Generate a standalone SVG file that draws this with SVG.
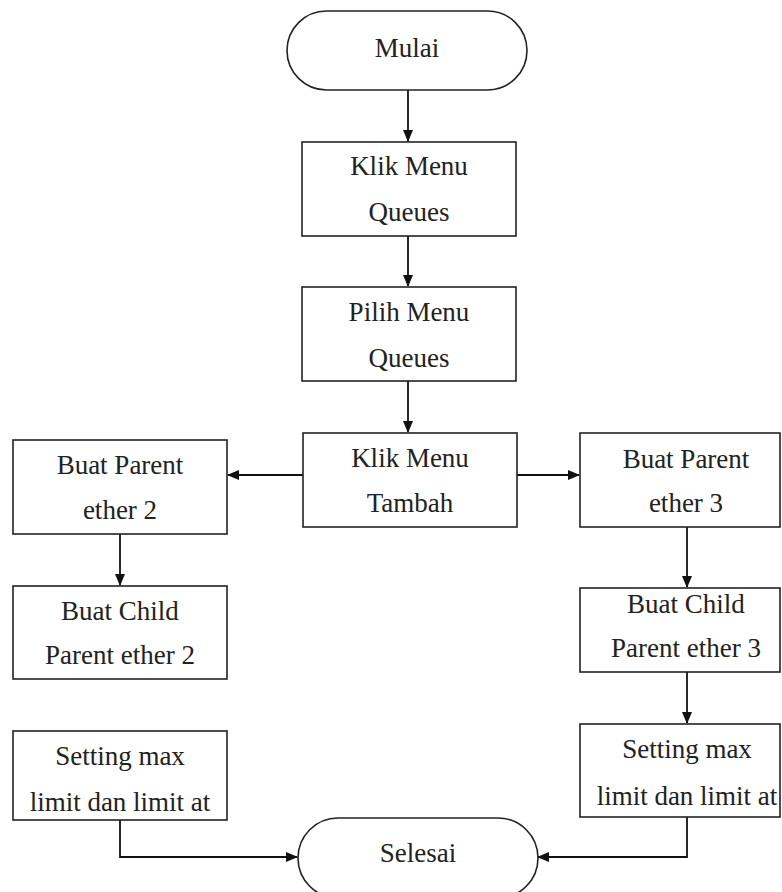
<svg xmlns="http://www.w3.org/2000/svg" width="782" height="892" viewBox="0 0 782 892">
<style>
.b{fill:#fff;stroke:#222;stroke-width:1.6}
.t{font-family:"Liberation Serif","Times New Roman",serif;font-size:27px;fill:#222;text-anchor:middle}
.c{fill:none;stroke:#111;stroke-width:1.8}
</style>
<defs>
<marker id="a" markerWidth="12" markerHeight="10" refX="11" refY="5" orient="auto" markerUnits="userSpaceOnUse">
<path d="M0,0 L12,5 L0,10 Z" fill="#111"/>
</marker>
</defs>
<rect width="782" height="892" fill="#fff"/>
<g id="connectors">
<line class="c" x1="408" y1="90" x2="408" y2="141" marker-end="url(#a)"/>
<line class="c" x1="408" y1="236" x2="408" y2="286" marker-end="url(#a)"/>
<line class="c" x1="408" y1="381" x2="408" y2="432" marker-end="url(#a)"/>
<line class="c" x1="303" y1="475" x2="228" y2="475" marker-end="url(#a)"/>
<line class="c" x1="517" y1="475" x2="579" y2="475" marker-end="url(#a)"/>
<line class="c" x1="120" y1="534" x2="120" y2="585" marker-end="url(#a)"/>
<line class="c" x1="687" y1="527" x2="687" y2="587" marker-end="url(#a)"/>
<line class="c" x1="687" y1="672" x2="687" y2="723" marker-end="url(#a)"/>
<polyline class="c" points="120,820 120,857 297,857" marker-end="url(#a)"/>
<polyline class="c" points="687,817 687,857 538,857" marker-end="url(#a)"/>
</g>
<g id="mulai">
<rect class="b" x="287" y="11" width="240" height="79" rx="39.5"/>
<text class="t" x="407" y="57">Mulai</text>
</g>
<g id="klik-menu-queues">
<rect class="b" x="302" y="142" width="214" height="94"/>
<text class="t" x="409" y="175">Klik Menu</text>
<text class="t" x="409" y="221">Queues</text>
</g>
<g id="pilih-menu-queues">
<rect class="b" x="302" y="287" width="214" height="94"/>
<text class="t" x="409" y="321">Pilih Menu</text>
<text class="t" x="409" y="367">Queues</text>
</g>
<g id="klik-menu-tambah">
<rect class="b" x="303" y="433" width="214" height="94"/>
<text class="t" x="410" y="467">Klik Menu</text>
<text class="t" x="410" y="512">Tambah</text>
</g>
<g id="buat-parent-ether2">
<rect class="b" x="13" y="440" width="214" height="94"/>
<text class="t" x="120" y="474">Buat Parent</text>
<text class="t" x="120" y="519">ether 2</text>
</g>
<g id="buat-child-ether2">
<rect class="b" x="13" y="586" width="214" height="93"/>
<text class="t" x="120" y="620">Buat Child</text>
<text class="t" x="120" y="664">Parent ether 2</text>
</g>
<g id="buat-child-ether3">
<rect class="b" x="580" y="588" width="200" height="84"/>
<text class="t" x="686" y="613">Buat Child</text>
<text class="t" x="686" y="657">Parent ether 3</text>
</g>
<g id="buat-parent-ether3">
<rect class="b" x="580" y="433" width="200" height="94"/>
<text class="t" x="686" y="468">Buat Parent</text>
<text class="t" x="686" y="512">ether 3</text>
</g>
<g id="setting-left">
<rect class="b" x="13" y="731" width="214" height="89"/>
<text class="t" x="120" y="765">Setting max</text>
<text class="t" x="120" y="811">limit dan limit at</text>
</g>
<g id="setting-right">
<rect class="b" x="580" y="724" width="200" height="93"/>
<text class="t" x="687" y="758">Setting max</text>
<text class="t" x="687" y="805">limit dan limit at</text>
</g>
<g id="selesai">
<rect class="b" x="298" y="818" width="240" height="80" rx="40"/>
<text class="t" x="418" y="862">Selesai</text>
</g>
</svg>
